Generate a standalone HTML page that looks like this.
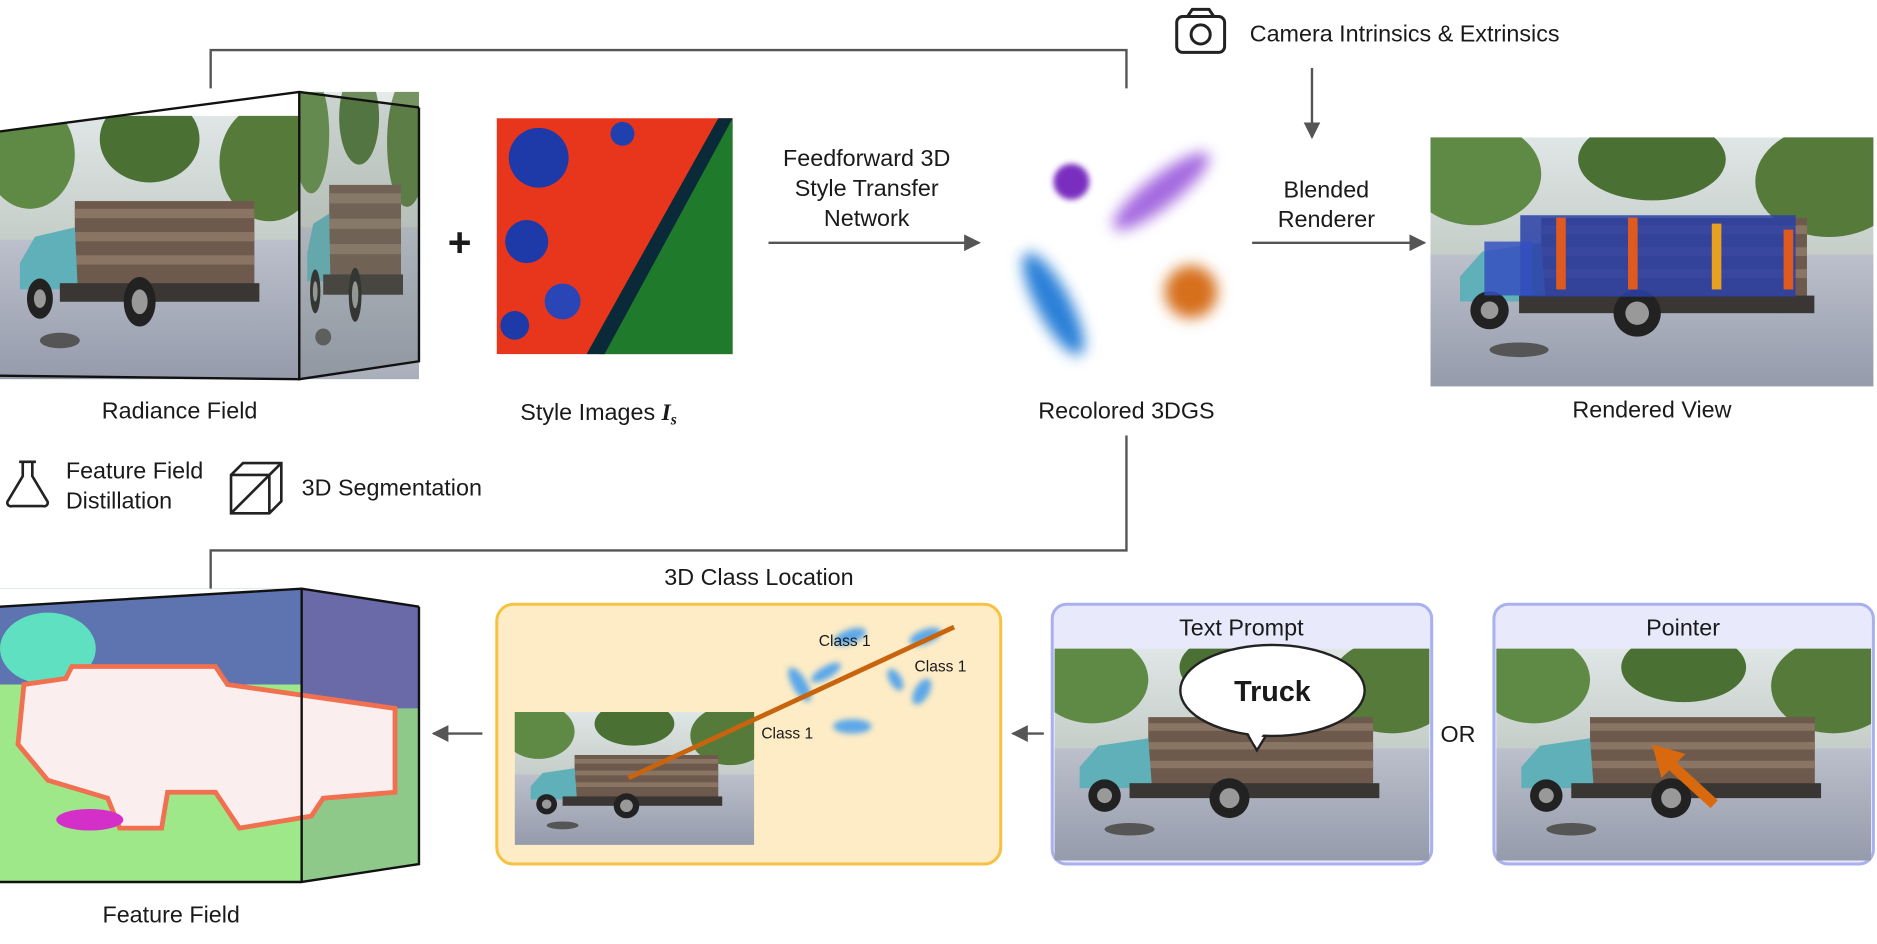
<!DOCTYPE html>
<html><head><meta charset="utf-8"><style>
html,body{margin:0;padding:0;background:#fff;}
svg{display:block;}
text{font-family:"Liberation Sans",sans-serif;fill:#1a1a1a;}
</style></head><body>
<svg width="1877" height="944" viewBox="0 0 1568 785" xmlns="http://www.w3.org/2000/svg">
<defs>
<filter id="bl" x="-50%" y="-50%" width="200%" height="200%"><feGaussianBlur stdDeviation="6"/></filter>
<filter id="bl2" x="-50%" y="-50%" width="200%" height="200%"><feGaussianBlur stdDeviation="2.5"/></filter>
<marker id="ar" viewBox="0 0 10 10" refX="9" refY="5" markerWidth="7" markerHeight="7" orient="auto"><path d="M0,0L10,5L0,10z" fill="#555"/></marker>
<linearGradient id="sky" x1="0" y1="0" x2="0" y2="1"><stop offset="0" stop-color="#dfe6e6"/><stop offset="1" stop-color="#a8b2a8"/></linearGradient>
<linearGradient id="pave" x1="0" y1="0" x2="0" y2="1"><stop offset="0" stop-color="#bcc0cc"/><stop offset="1" stop-color="#959bab"/></linearGradient>
<symbol id="photo" viewBox="0 0 300 170" preserveAspectRatio="none">
<rect width="300" height="170" fill="url(#sky)"/>
<ellipse cx="30" cy="25" rx="45" ry="35" fill="#5f8a45"/>
<ellipse cx="150" cy="15" rx="50" ry="28" fill="#4a7034"/>
<ellipse cx="270" cy="30" rx="50" ry="38" fill="#557a3a"/>
<rect x="0" y="80" width="300" height="90" fill="url(#pave)"/>
<rect x="75" y="55" width="180" height="55" fill="#6e5a4c"/>
<rect x="75" y="60" width="180" height="6" fill="#8a7565"/>
<rect x="75" y="75" width="180" height="6" fill="#8a7565"/>
<rect x="75" y="90" width="180" height="6" fill="#8a7565"/>
<path d="M20,95 L35,78 L75,72 L78,112 L20,112z" fill="#5fb0b8"/>
<rect x="60" y="108" width="200" height="12" fill="#3a3634"/>
<circle cx="40" cy="118" r="13" fill="#222"/><circle cx="40" cy="118" r="6" fill="#999"/>
<circle cx="140" cy="120" r="16" fill="#222"/><circle cx="140" cy="120" r="8" fill="#999"/>
<ellipse cx="60" cy="145" rx="20" ry="5" fill="#555"/>
</symbol>
</defs>

<path d="M176,72 V40 H941 V72" fill="none" stroke="#555" stroke-width="2"/>

<polygon points="250,75 350,88 350,300 250,315" fill="#7c8a7a"/>
<svg x="250" y="75" width="100" height="240" viewBox="0 0 300 170" preserveAspectRatio="none" opacity="0.8"><use href="#photo" width="300" height="170"/></svg>
<use href="#photo" x="0" y="95" width="250" height="220"/>
<polygon points="0,75 250,75 0,108" fill="#fff"/>
<path d="M0,108 L250,75 L350,88 M250,75 V315 L350,300 V88 M0,312 L250,315" fill="none" stroke="#111" stroke-width="2"/>
<text x="150" y="348" font-size="19.5" text-anchor="middle">Radiance Field</text>
<text x="384" y="212" font-size="34" text-anchor="middle" font-weight="bold">+</text>

<rect x="415" y="97" width="197" height="197" fill="#e8361c"/>
<polygon points="500,294 612,97 612,294" fill="#1f7a2c"/>
<polygon points="490,294 600,97 612,97 505,294" fill="#0a2a3a"/>
<circle cx="450" cy="130" r="25" fill="#1d3aa8"/><circle cx="440" cy="200" r="18" fill="#1d3aa8"/><circle cx="470" cy="250" r="15" fill="#2a45b5"/><circle cx="430" cy="270" r="12" fill="#1d3aa8"/><circle cx="520" cy="110" r="10" fill="#2040b0"/>
<text x="500" y="349" font-size="19.5" text-anchor="middle">Style Images <tspan font-family="Liberation Serif" font-weight="bold" font-style="italic">I<tspan font-size="13" dy="4">s</tspan></tspan></text>

<text font-size="19.5" text-anchor="middle"><tspan x="724" y="137">Feedforward 3D</tspan><tspan x="724" y="162">Style Transfer</tspan><tspan x="724" y="187">Network</tspan></text>
<line x1="642" y1="201" x2="818" y2="201" stroke="#555" stroke-width="2" marker-end="url(#ar)"/>

<circle cx="895" cy="150" r="15" fill="#7a2ec0" filter="url(#bl2)"/>
<ellipse cx="0" cy="0" rx="50" ry="13" fill="#a56be0" filter="url(#bl)" transform="translate(970,158) rotate(-38)"/>
<ellipse cx="0" cy="0" rx="48" ry="14" fill="#2a80d8" filter="url(#bl)" transform="translate(880,252) rotate(62)"/>
<circle cx="995" cy="242" r="22" fill="#d6701a" filter="url(#bl)"/>
<text x="941" y="348" font-size="19.5" text-anchor="middle">Recolored 3DGS</text>

<rect x="983" y="12" width="40" height="30" rx="5" fill="none" stroke="#222" stroke-width="2.5"/>
<path d="M992,12 l4,-6 h14 l4,6" fill="none" stroke="#222" stroke-width="2.5"/>
<circle cx="1003" cy="27" r="8" fill="none" stroke="#222" stroke-width="2.5"/>
<text x="1044" y="33" font-size="19.5">Camera Intrinsics &amp; Extrinsics</text>
<line x1="1096" y1="55" x2="1096" y2="113" stroke="#555" stroke-width="2" marker-end="url(#ar)"/>
<text font-size="19.5" text-anchor="middle"><tspan x="1108" y="163">Blended</tspan><tspan x="1108" y="188">Renderer</tspan></text>
<line x1="1046" y1="201" x2="1190" y2="201" stroke="#555" stroke-width="2" marker-end="url(#ar)"/>

<use href="#photo" x="1195" y="113" width="370" height="208"/>
<rect x="1270" y="178" width="230" height="68" fill="#2a3fa8" opacity="0.85"/>
<rect x="1240" y="200" width="40" height="45" fill="#3550c0" opacity="0.85"/>
<rect x="1300" y="180" width="8" height="60" fill="#e05a20"/><rect x="1360" y="180" width="8" height="60" fill="#e05a20"/><rect x="1430" y="185" width="8" height="55" fill="#e8a020"/><rect x="1490" y="190" width="8" height="50" fill="#e05a20"/>
<text x="1380" y="347" font-size="19.5" text-anchor="middle">Rendered View</text>

<path d="M16,384 h14 M19,384 v12 l-12,20 a3,3 0 0 0 3,5 h26 a3,3 0 0 0 3,-5 l-12,-20 v-12" fill="none" stroke="#222" stroke-width="2.2"/>
<text font-size="19.5"><tspan x="55" y="398">Feature Field</tspan><tspan x="55" y="423">Distillation</tspan></text>
<path d="M193,395 l10,-10 h32 v32 l-10,10 h-32z M193,395 h32 v32 M225,395 l10,-10 M193,427 L235,385" fill="none" stroke="#222" stroke-width="2.2"/>
<text x="252" y="412" font-size="19.5">3D Segmentation</text>

<path d="M941,362 V458 H176 V490" fill="none" stroke="#555" stroke-width="2"/>
<text x="634" y="487" font-size="19.5" text-anchor="middle">3D Class Location</text>

<polygon points="252,490 350,505 350,720 252,735" fill="#8fc98a"/>
<polygon points="252,490 350,505 350,590 252,590" fill="#6a6aa8"/>
<rect x="0" y="490" width="252" height="245" fill="#9ee88a"/>
<rect x="0" y="490" width="252" height="80" fill="#5e74b0"/>
<ellipse cx="40" cy="540" rx="40" ry="30" fill="#5fe0c0"/>
<polygon points="0,505 252,490 0,490" fill="#fff"/>
<path d="M20,570 L55,565 L60,555 L180,555 L190,570 L330,590 L330,660 L270,665 L260,680 L200,690 L180,660 L140,660 L135,690 L100,690 L90,665 L40,650 L15,620z" fill="#fbeeee" stroke="#f07050" stroke-width="4"/>
<ellipse cx="75" cy="683" rx="28" ry="9" fill="#d42fc8"/>
<path d="M0,505 L252,490 L350,505 M252,490 V735 L350,720 V505 M0,735 H252" fill="none" stroke="#111" stroke-width="2"/>
<text x="143" y="769" font-size="19.5" text-anchor="middle">Feature Field</text>
<line x1="403" y1="611" x2="362" y2="611" stroke="#555" stroke-width="2" marker-end="url(#ar)"/>

<rect x="415" y="503" width="421" height="217" rx="14" fill="#fdecc5" stroke="#f5c242" stroke-width="2.5"/>
<use href="#photo" x="430" y="593" width="200" height="111"/>
<g fill="#3f9cf0" filter="url(#bl2)" opacity="0.85">
<ellipse cx="710" cy="530" rx="14" ry="6" transform="rotate(-20 710 530)"/>
<ellipse cx="773" cy="530" rx="14" ry="6" transform="rotate(-20 773 530)"/>
<ellipse cx="668" cy="570" rx="16" ry="6" transform="rotate(60 668 570)"/>
<ellipse cx="690" cy="560" rx="14" ry="5" transform="rotate(-30 690 560)"/>
<ellipse cx="748" cy="566" rx="10" ry="5" transform="rotate(60 748 566)"/>
<ellipse cx="770" cy="576" rx="12" ry="6" transform="rotate(-60 770 576)"/>
<ellipse cx="712" cy="605" rx="16" ry="6"/>
</g>
<line x1="525" y1="648" x2="797" y2="522" stroke="#c8640e" stroke-width="4"/>
<text font-size="13" fill="#111"><tspan x="684" y="538">Class 1</tspan><tspan x="764" y="559">Class 1</tspan><tspan x="636" y="615">Class 1</tspan></text>
<line x1="872" y1="611" x2="846" y2="611" stroke="#555" stroke-width="2" marker-end="url(#ar)"/>

<rect x="879" y="503" width="317" height="217" rx="12" fill="#e8eafc" stroke="#a9b0f0" stroke-width="2.5"/>
<use href="#photo" x="881" y="540" width="313" height="177"/>
<text x="1037" y="529" font-size="19.5" text-anchor="middle">Text Prompt</text>
<path d="M1040,608 L1050,625 L1058,612z" fill="#fff" stroke="#222" stroke-width="2"/>
<ellipse cx="1063" cy="575" rx="77" ry="38" fill="#fff" stroke="#222" stroke-width="2"/>
<path d="M1042,609 L1048,620 L1056,611z" fill="#fff"/>
<text x="1063" y="584" font-size="24" font-weight="bold" text-anchor="middle" fill="#111">Truck</text>
<text x="1218" y="618" font-size="19.5" text-anchor="middle">OR</text>

<rect x="1248" y="503" width="317" height="217" rx="12" fill="#e8eafc" stroke="#a9b0f0" stroke-width="2.5"/>
<use href="#photo" x="1250" y="540" width="313" height="177"/>
<text x="1406" y="529" font-size="19.5" text-anchor="middle">Pointer</text>
<line x1="1432" y1="670" x2="1395" y2="636" stroke="#d9690f" stroke-width="9"/>
<polygon points="1380,620 1408,628 1388,648" fill="#d9690f"/>
</svg>
</body></html>
